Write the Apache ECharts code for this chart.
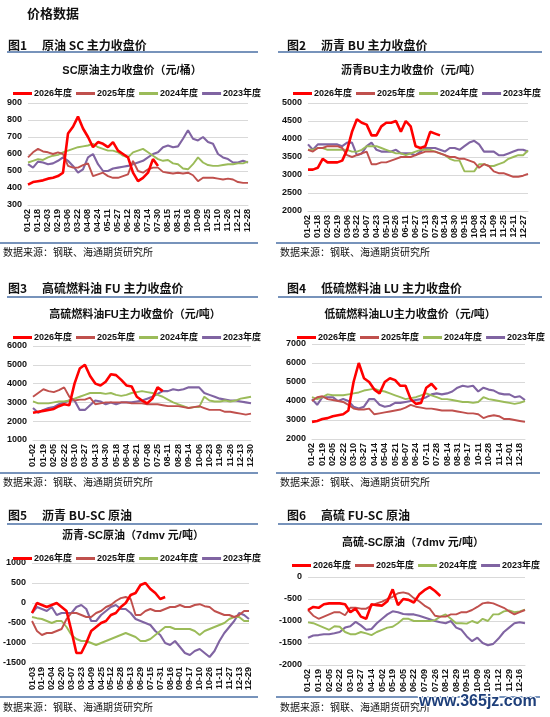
<!DOCTYPE html>
<html>
<head>
<meta charset="utf-8">
<script src="https://cdn.jsdelivr.net/npm/echarts@6/dist/echarts.min.js"></script>
<style>
html, body { margin: 0; padding: 0; background: #fff; }
#main { width: 550px; height: 717px; }
</style>
</head>
<body>
<div id="main"></div>
<script>
// 年度名称
var yearNames = ['2026年度', '2025年度', '2024年度', '2023年度'];

// 图1 原油SC
var labels1 = ['01-02', '01-18', '02-03', '02-19', '03-06', '03-22', '04-08', '04-24', '05-11', '05-27', '06-12', '06-28', '07-14', '07-30', '08-15', '08-31', '09-16', '10-09', '10-25', '11-10', '11-26', '12-12', '12-28'];
var sc2026 = [420, 435, 440, 445, 455, 460, 470, 490, 720, 760, 820, 750, 700, 640, 670, 660, 640, 670, 620, 600, 580, 490, 440, 460, 490, 570, 530];
var sc2025 = [580, 610, 630, 615, 610, 600, 610, 600, 530, 520, 520, 535, 545, 470, 480, 490, 470, 460, 460, 470, 480, 560, 500, 490, 510, 520, 520, 495, 490, 485, 490, 485, 490, 475, 440, 460, 460, 460, 455, 450, 455, 450, 435, 430, 430];
var sc2024 = [550, 560, 570, 565, 580, 590, 595, 610, 620, 630, 640, 645, 650, 660, 640, 630, 620, 620, 610, 590, 580, 610, 620, 630, 610, 590, 570, 560, 565, 545, 540, 515, 510, 540, 580, 550, 535, 530, 530, 535, 540, 540, 545, 545, 555];
var sc2023 = [540, 520, 555, 550, 540, 545, 560, 580, 560, 530, 490, 510, 580, 600, 540, 500, 500, 515, 520, 525, 530, 540, 550, 560, 580, 600, 610, 640, 650, 640, 645, 690, 740, 690, 680, 700, 670, 660, 600, 580, 570, 550, 550, 560, 550];

// 图2 沥青BU
var labels2 = ['01-02', '01-18', '02-03', '02-19', '03-06', '03-22', '04-07', '04-23', '05-10', '05-26', '06-11', '06-27', '07-13', '07-29', '08-14', '08-30', '09-15', '10-08', '10-24', '11-09', '11-25', '12-11', '12-27'];
var bu2026 = [3150, 3150, 3200, 3450, 3350, 3350, 3350, 3400, 3700, 4200, 4550, 4450, 4400, 4100, 4100, 4350, 4450, 4450, 4500, 4200, 4500, 4350, 3800, 3750, 3800, 4200, 4150, 4100];
var bu2025 = [3700, 3650, 3750, 3750, 3800, 3800, 3800, 3750, 3550, 3500, 3550, 3600, 3650, 3300, 3300, 3350, 3350, 3400, 3450, 3500, 3500, 3500, 3550, 3600, 3650, 3650, 3650, 3600, 3550, 3500, 3500, 3450, 3450, 3400, 3350, 3200, 3300, 3250, 3100, 3050, 3050, 3000, 2950, 2950, 2980, 3030];
var bu2024 = [3700, 3700, 3750, 3750, 3700, 3700, 3700, 3700, 3700, 3650, 3650, 3700, 3800, 3800, 3800, 3750, 3700, 3650, 3600, 3600, 3550, 3600, 3650, 3700, 3700, 3700, 3650, 3600, 3550, 3450, 3400, 3400, 3100, 3100, 3100, 3300, 3300, 3250, 3250, 3300, 3350, 3450, 3500, 3550, 3550, 3680];
var bu2023 = [3850, 3700, 3850, 3850, 3850, 3850, 3850, 3800, 3900, 3900, 3550, 3600, 3800, 3900, 3700, 3650, 3650, 3650, 3700, 3600, 3600, 3600, 3550, 3650, 3750, 3750, 3750, 3700, 3650, 3750, 3750, 3700, 3800, 3900, 3950, 3850, 3650, 3650, 3650, 3550, 3550, 3600, 3650, 3700, 3700, 3650];

// 图3 高硫燃料油FU
var labels3 = ['01-02', '01-19', '02-05', '02-22', '03-10', '03-27', '04-13', '04-30', '05-18', '06-04', '06-21', '07-08', '07-25', '08-11', '08-28', '09-14', '10-06', '10-23', '11-09', '11-26', '12-13', '12-30'];
var fu2026 = [2450, 2500, 2550, 2600, 2650, 2800, 2900, 2850, 4000, 4800, 5000, 4400, 4000, 3900, 4100, 4500, 4450, 4200, 3900, 3850, 3300, 3100, 2950, 3200, 3800, 3600];
var fu2025 = [3300, 3500, 3700, 3600, 3550, 3650, 3800, 3300, 3100, 3150, 3150, 3250, 2900, 2950, 3000, 3000, 3000, 3000, 3000, 2950, 2950, 2950, 2900, 2900, 2900, 2850, 2800, 2800, 2800, 2750, 2700, 2750, 2800, 2700, 2600, 2600, 2600, 2500, 2500, 2450, 2400, 2350, 2400];
var fu2024 = [3050, 2950, 2950, 2950, 3000, 3050, 3050, 3100, 3200, 3300, 3400, 3500, 3500, 3500, 3450, 3500, 3400, 3350, 3400, 3500, 3550, 3600, 3550, 3500, 3400, 3300, 3150, 3000, 2900, 2800, 2700, 2750, 2750, 3300, 3100, 3050, 3050, 3100, 3050, 3100, 3200, 3250, 3300];
var fu2023 = [2700, 2450, 2600, 2700, 2750, 2900, 3000, 3100, 3100, 2600, 2600, 2850, 3100, 3050, 2900, 3000, 2900, 3000, 3000, 3000, 3050, 3100, 3200, 3300, 3450, 3600, 3600, 3700, 3650, 3700, 3800, 3800, 3800, 3500, 3400, 3300, 3200, 3150, 3100, 3100, 3050, 3000, 2950];

// 图4 低硫燃料油LU
var labels4 = ['01-02', '01-19', '02-05', '02-22', '03-10', '03-27', '04-14', '05-04', '05-21', '06-07', '06-24', '07-11', '07-28', '08-14', '08-31', '09-17', '10-11', '10-28', '11-14', '12-01', '12-18'];
var lu2026 = [2900, 2950, 3050, 3100, 3200, 3250, 3300, 3500, 5000, 6000, 5200, 5000, 4600, 4400, 5000, 5200, 5100, 4800, 4800, 4100, 3850, 3900, 4700, 4900, 4600];
var lu2025 = [4000, 4200, 4250, 4100, 4050, 4000, 3950, 3800, 3600, 3550, 3550, 3600, 3300, 3350, 3400, 3450, 3500, 3550, 3650, 3800, 3700, 3650, 3600, 3600, 3550, 3500, 3500, 3500, 3450, 3400, 3350, 3350, 3300, 3100, 3200, 3250, 3200, 3050, 3050, 3000, 2950, 2900];
var lu2024 = [4200, 4100, 4200, 4350, 4300, 4300, 4300, 4350, 4400, 4450, 4550, 4600, 4650, 4550, 4500, 4400, 4300, 4200, 4100, 4150, 4200, 4300, 4400, 4300, 4200, 4100, 4100, 4050, 4000, 3950, 3950, 3900, 3950, 4200, 4100, 4050, 4000, 3950, 3900, 3850, 3900, 4000];
var lu2023 = [4100, 3800, 4200, 4200, 4200, 4000, 4100, 4000, 3700, 3600, 3700, 4100, 4100, 3800, 3700, 3750, 3900, 3900, 3950, 4000, 4050, 4100, 4200, 4350, 4400, 4350, 4400, 4500, 4700, 4800, 4750, 4800, 4500, 4700, 4600, 4550, 4400, 4350, 4350, 4200, 4250, 4050];

// 图5 沥青-SC原油
var labels5 = ['01-03', '01-19', '02-04', '02-20', '03-07', '03-23', '04-09', '04-25', '05-12', '05-28', '06-13', '06-29', '07-15', '07-31', '08-16', '09-01', '09-17', '10-10', '10-26', '11-11', '11-27', '12-13', '12-29'];
var busc2026 = [-250, 0, -50, -100, -50, 0, -100, -200, -700, -1250, -1250, -1000, -700, -600, -500, -450, -300, -250, -100, 0, 200, 250, 450, 500, 350, 250, 100, 150];
var busc2025 = [-450, -700, -800, -750, -750, -700, -650, -400, -250, -250, -300, -350, -350, -250, -200, -100, -50, 50, 120, 150, 100, -300, -300, -200, -150, -200, -200, -150, -100, -100, -50, -100, -100, -50, -30, -80, -100, -200, -250, -300, -300, -350, -300, -200, -200];
var busc2024 = [-350, -380, -400, -450, -500, -450, -450, -600, -800, -900, -950, -950, -1000, -1050, -1000, -950, -900, -850, -800, -750, -800, -850, -950, -950, -900, -800, -700, -600, -600, -650, -650, -650, -650, -700, -800, -700, -650, -600, -550, -500, -400, -350, -350, -450, -450];
var busc2023 = [-250, -100, -150, -200, -100, -300, -250, -250, -250, -100, -50, -150, -450, -450, -300, -200, -100, -50, -150, -150, -250, -400, -450, -500, -550, -700, -800, -1000, -1050, -950, -1100, -1250, -1300, -1200, -1150, -1250, -1350, -1200, -950, -750, -600, -450, -250, -300, -400];

// 图6 高硫-SC原油
var labels6 = ['01-02', '01-19', '02-05', '02-22', '03-10', '03-27', '04-14', '05-02', '05-19', '06-05', '06-22', '07-09', '07-26', '08-12', '08-29', '09-15', '10-09', '10-26', '11-12', '11-29', '12-16'];
var fusc2026 = [-750, -680, -700, -620, -600, -600, -600, -620, -800, -720, -900, -950, -620, -640, -650, -550, -280, -640, -500, -520, -580, -400, -300, -230, -320, -430];
var fusc2025 = [-750, -880, -950, -900, -850, -800, -800, -870, -700, -700, -720, -720, -650, -600, -560, -500, -450, -370, -350, -380, -480, -550, -650, -720, -880, -900, -900, -850, -850, -800, -800, -750, -680, -600, -580, -600, -650, -700, -780, -850, -800, -750];
var fusc2024 = [-1030, -1050, -1100, -1150, -1200, -1120, -1130, -1250, -1300, -1300, -1250, -1280, -1320, -1250, -1200, -1150, -1130, -1050, -950, -950, -1000, -1000, -1000, -1000, -980, -900, -850, -950, -1050, -1050, -1060, -1000, -1050, -950, -1000, -850, -850, -780, -760, -800, -780, -740];
var fusc2023 = [-1380, -1330, -1320, -1300, -1300, -1280, -1250, -1150, -1120, -1020, -1100, -1200, -1180, -1050, -950, -850, -780, -800, -840, -850, -850, -880, -920, -960, -1000, -1030, -1050, -1000, -1150, -1200, -1350, -1460, -1380, -1500, -1550, -1520, -1400, -1250, -1150, -1050, -1030, -1050];

var FONT = 'Arial, "Liberation Sans", "Noto Sans CJK SC", sans-serif';
var CJK = '"Noto Sans CJK SC", sans-serif';
var colors = ['#FF0000', '#C0504D', '#9BBB59', '#8064A2'];
var widths = [2.6, 1.9, 1.9, 2.1];

// 每个图的设置
var charts = [
	{ title: 'SC原油主力收盘价（元/桶）', cx: 127, labels: labels1, n: 45, min: 300, max: 900, step: 100, grid: { left: 28, top: 103, width: 220, height: 102 }, legendTop: 84, legendLeft: 8, data: [sc2026, sc2025, sc2024, sc2023] },
	{ title: '沥青BU主力收盘价（元/吨）', cx: 406, labels: labels2, n: 46, min: 2000, max: 5000, step: 500, grid: { left: 308, top: 103, width: 220, height: 108 }, legendTop: 84, legendLeft: 288, data: [bu2026, bu2025, bu2024, bu2023] },
	{ title: '高硫燃料油FU主力收盘价（元/吨）', cx: 130, labels: labels3, n: 43, min: 1000, max: 6000, step: 1000, grid: { left: 33, top: 346, width: 218, height: 94 }, legendTop: 328, legendLeft: 8, data: [fu2026, fu2025, fu2024, fu2023] },
	{ title: '低硫燃料油LU主力收盘价（元/吨）', cx: 405, labels: labels4, n: 42, min: 2000, max: 7000, step: 1000, grid: { left: 312, top: 344, width: 213, height: 95 }, legendTop: 328, legendLeft: 292, data: [lu2026, lu2025, lu2024, lu2023] },
	{ title: '沥青-SC原油（7dmv 元/吨）', cx: 128, labels: labels5, n: 45, min: -1500, max: 1000, step: 500, grid: { left: 32, top: 563, width: 217, height: 100 }, legendTop: 549, legendLeft: 8, data: [busc2026, busc2025, busc2024, busc2023] },
	{ title: '高硫-SC原油（7dmv 元/吨）', cx: 408, labels: labels6, n: 42, min: -2000, max: 0, step: 500, grid: { left: 308, top: 577, width: 217, height: 88 }, legendTop: 556, legendLeft: 287, data: [fusc2026, fusc2025, fusc2024, fusc2023] }
];

var titles = [], legends = [], grids = [], xAxes = [], yAxes = [], series = [];

// 图例只画一条粗线
var legendItems = yearNames.map(function(name, s) {
	return { name: name, icon: 'rect', itemStyle: { color: colors[s] } };
});

charts.forEach(function(c, k) {
	var cats = [];
	for (var i = 0; i < c.n; i++) {
		cats.push(i % 2 === 0 && c.labels[i / 2] ? c.labels[i / 2] : '~' + i);
	}
	titles.push({
		text: c.title,
		left: c.cx,
		top: c.legendTop - 24,
		textAlign: 'center',
		textStyle: { fontFamily: FONT, fontSize: 11, fontWeight: 'bold', color: '#111' }
	});
	legends.push({
		data: legendItems,
		left: c.legendLeft,
		top: c.legendTop,
		width: 270,
		orient: 'horizontal',
		itemWidth: 19,
		itemHeight: 3,
		itemGap: 4,
		textStyle: { fontFamily: FONT, fontSize: 9, fontWeight: 'bold', color: '#111', padding: [0, 0, 0, -3] },
		selectedMode: false
	});
	grids.push(c.grid);
	xAxes.push({
		type: 'category',
		gridIndex: k,
		data: cats,
		boundaryGap: false,
		axisLine: { show: true, onZero: false, lineStyle: { color: '#D9D9D9' } },
		axisTick: { show: false },
		axisLabel: {
			interval: 0,
			rotate: 90,
			margin: 4,
			fontFamily: FONT,
			fontSize: 9,
			fontWeight: 'bold',
			color: '#111',
			formatter: function(v) {
				return v.charAt(0) === '~' ? '' : v;
			}
		}
	});
	yAxes.push({
		type: 'value',
		gridIndex: k,
		min: c.min,
		max: c.max,
		interval: c.step,
		axisLine: { show: false },
		axisTick: { show: false },
		splitLine: { lineStyle: { color: '#D9D9D9', width: 1 } },
		axisLabel: {
			margin: 6, fontFamily: FONT, fontSize: 9, fontWeight: 'bold', color: '#111',
			formatter: function(v) {
				return String(v);
			}
		}
	});
	// 红线画在最上面
	for (var s = 3; s >= 0; s--) {
		series.push({
			name: yearNames[s],
			type: 'line',
			xAxisIndex: k,
			yAxisIndex: k,
			data: c.data[s],
			symbol: 'none',
			smooth: false,
			silent: true,
			color: colors[s],
			lineStyle: { color: colors[s], width: widths[s] }
		});
	}
});

// 页面上的文字和蓝线
var graphics = [];
function addText(x, y, text, size, weight) {
	graphics.push({
		type: 'text', left: x, top: y,
		style: { text: text, fontFamily: CJK, fontSize: size, fontWeight: weight, fill: '#111' }
	});
}
function addLine(x1, x2, y) {
	graphics.push({
		type: 'line',
		shape: { x1: x1, y1: y, x2: x2, y2: y },
		style: { stroke: '#4A6FA5', lineWidth: 1.5 }
	});
}
addText(27, 7, '价格数据', 13, 'bold');

var headers = [
	['图1', '原油 SC 主力收盘价', 8, 39, 52],
	['图2', '沥青 BU 主力收盘价', 287, 39, 52],
	['图3', '高硫燃料油 FU 主力收盘价', 8, 282, 297],
	['图4', '低硫燃料油 LU 主力收盘价', 287, 282, 297],
	['图5', '沥青 BU-SC 原油', 8, 509, 524],
	['图6', '高硫 FU-SC 原油', 287, 509, 524]
];
headers.forEach(function(h) {
	addText(h[2], h[3], h[0], 12, 'bold');
	addText(h[2] + 34, h[3], h[1], 12, 'bold');
	if (h[2] < 100) {
		addLine(7, 258, h[4]);
	} else {
		addLine(278, 542, h[4]);
	}
});

var sources = [[3, 244, 243], [280, 244, 243], [3, 474, 473], [280, 474, 473], [3, 699, 697], [280, 699, 697]];
sources.forEach(function(s) {
	addLine(s[0] < 100 ? 0 : 276, s[0] < 100 ? 258 : 540, s[2]);
	addText(s[0], s[1] + 3, '数据来源：钢联、海通期货研究所', 10, 'normal');
});

// 水印网址
graphics.push({
	type: 'text', left: 418, top: 693,
	style: { text: 'www.365jz.com', fontFamily: FONT, fontSize: 16, fontWeight: 'bold', fill: '#1E3F7A', stroke: '#fff', lineWidth: 2 }
});

var mychart = echarts.init(document.getElementById('main'));
mychart.setOption({
	backgroundColor: '#FFFFFF',
	animation: false,
	title: titles,
	legend: legends,
	grid: grids,
	xAxis: xAxes,
	yAxis: yAxes,
	series: series,
	graphic: graphics
});
</script>
</body>
</html>
